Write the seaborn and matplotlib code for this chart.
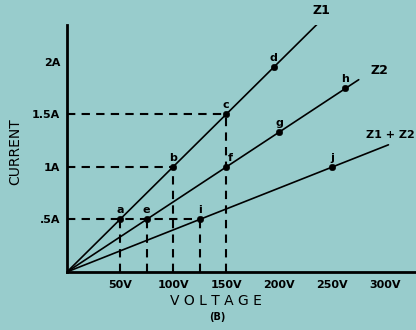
import matplotlib
matplotlib.use("Agg")
import matplotlib.pyplot as plt
import seaborn as sns
import pandas as pd

# Data
point_labels = ['a', 'b', 'c', 'd', 'e', 'f', 'g', 'h', 'i', 'j']
point_volts = [50, 100, 150, 195, 75, 150, 200, 262, 125, 250]
point_amps = [0.5, 1.0, 1.5, 1.95, 0.5, 1.0, 1.33, 1.75, 0.5, 1.0]

line_names = ['Z1', 'Z2', 'Z1 + Z2']
line_end_volts = [237, 275, 303]
line_end_amps = [2.37, 1.83, 1.21]

guide_volts = [150, 100, 125]   # horizontal guides end at these volts
guide_amps = [1.5, 1.0, 0.5]
drop_volts = [50, 75, 100, 125, 150]
drop_amps = [0.5, 0.5, 1.0, 0.5, 1.5]

x_ticks = [50, 100, 150, 200, 250, 300]
x_tick_labels = ['50V', '100V', '150V', '200V', '250V', '300V']
y_ticks = [0.5, 1.0, 1.5, 2.0]
y_tick_labels = ['.5A', '1A', '1.5A', '2A']

bg = '#98cccc'
sns.set_style('white')
plt.rcParams['font.family'] = ['DejaVu Sans']
plt.rcParams['text.color'] = 'black'

fig = plt.figure(figsize=(4.16, 3.30), dpi=100, facecolor=bg)
ax = fig.add_axes([0.161, 0.176, 0.839, 0.748])
ax.set_facecolor(bg)

# Lines
rows = []
for n, v, a in zip(line_names, line_end_volts, line_end_amps):
    rows.append({'line': n, 'V': 0, 'I': 0})
    rows.append({'line': n, 'V': v, 'I': a})
df_lines = pd.DataFrame(rows)
sns.lineplot(data=df_lines, x='V', y='I', units='line', estimator=None,
             color='black', lw=1.2, ax=ax, legend=False)

# dashed guides
for v, a in zip(guide_volts, guide_amps):
    ax.plot([0, v], [a, a], color='black', lw=1.5, ls=(0, (4, 3)))
for v, a in zip(drop_volts, drop_amps):
    ax.plot([v, v], [0, a], color='black', lw=1.5, ls=(0, (4, 3)))

# points
df_pts = pd.DataFrame({'V': point_volts, 'I': point_amps, 'lab': point_labels})
sns.scatterplot(data=df_pts, x='V', y='I', color='black', marker='o', s=22,
                edgecolor='black', ax=ax, zorder=5)
for lab, v, a in zip(point_labels, point_volts, point_amps):
    dx = 3 if lab == 'f' else 0
    ax.annotate(lab, (v, a), xytext=(dx, 3), textcoords='offset points',
                ha='center', va='bottom', fontsize=8, fontweight='bold', color='black')

# line labels
ax.text(240, 2.49, 'Z1', fontsize=9, fontweight='bold', ha='center', va='center',
        clip_on=False, color='black')
ax.text(286, 1.92, 'Z2', fontsize=9, fontweight='bold', ha='left', va='center',
        color='black')
ax.text(305, 1.30, 'Z1 + Z2', fontsize=8, fontweight='bold', ha='center', va='center',
        color='black')

ax.set_xlim(0, 329)
ax.set_ylim(0, 2.35)
ax.set_xticks(x_ticks)
ax.set_xticklabels(x_tick_labels, fontsize=8, fontweight='bold')
ax.set_yticks(y_ticks)
ax.set_yticklabels(y_tick_labels, fontsize=8, fontweight='bold')
ax.tick_params(axis='both', direction='in', length=3, width=1, colors='black', pad=5)
ax.tick_params(axis='x', pad=6)

for s in ['top', 'right']:
    ax.spines[s].set_visible(False)
for s in ['left', 'bottom']:
    ax.spines[s].set_color('black')
    ax.spines[s].set_linewidth(2)

ax.set_xlabel('')
ax.set_ylabel('')
fig.text(0.52, 0.088, 'V O L T A G E', fontsize=10, ha='center', va='center', color='black')
fig.text(0.522, 0.038, '(B)', fontsize=7, fontweight='bold', ha='center', va='center', color='black')
fig.text(0.036, 0.54, 'CURRENT', fontsize=10, rotation=90, ha='center', va='center', color='black')

fig.savefig('out.png', dpi=100, facecolor=bg)
